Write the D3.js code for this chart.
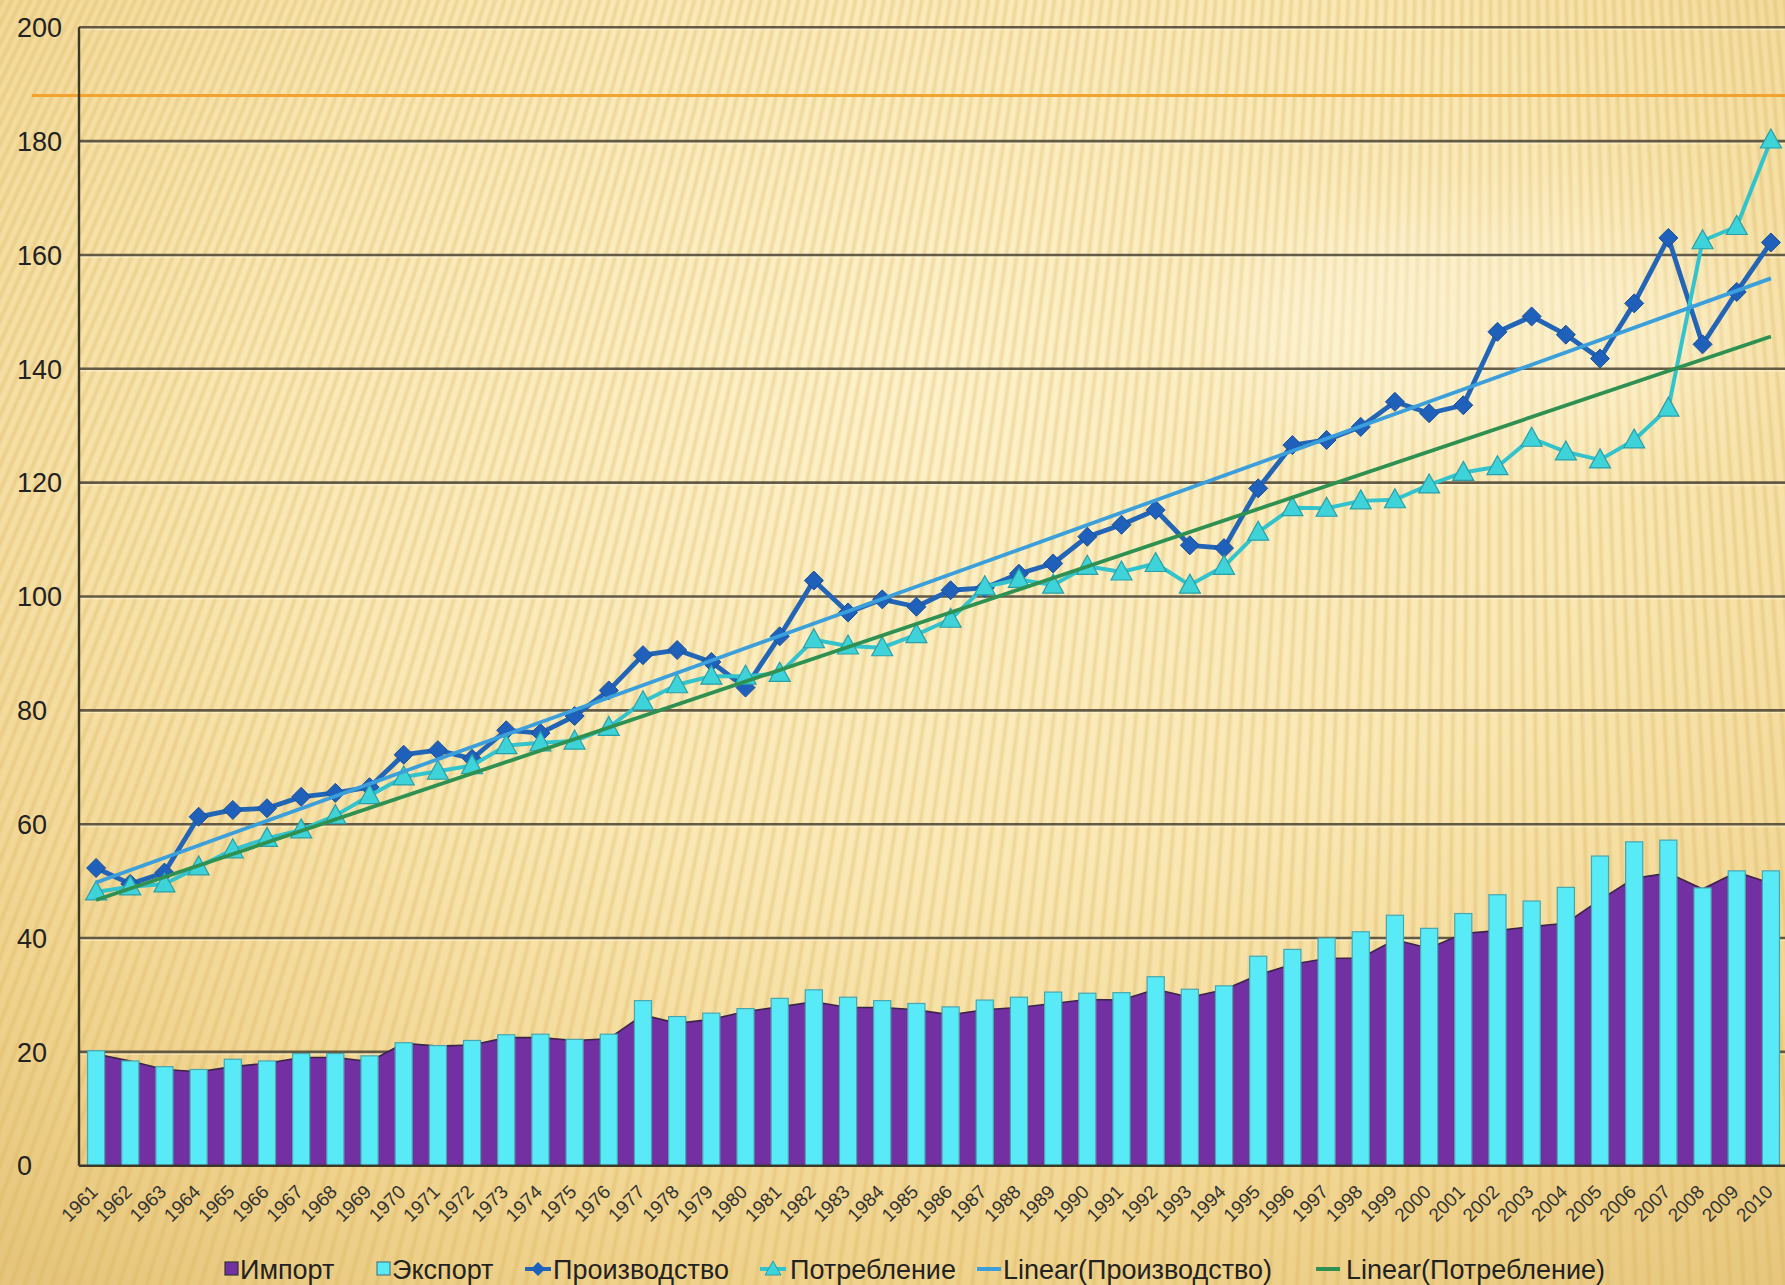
<!DOCTYPE html>
<html><head><meta charset="utf-8">
<script src="https://cdn.jsdelivr.net/npm/d3@7"></script>
<style>html,body{margin:0;padding:0;overflow:hidden;background:#F3DC9E}</style>
</head><body>
<svg id="c" width="1785" height="1285"></svg>
<script>
const years = ["1961","1962","1963","1964","1965","1966","1967","1968","1969","1970",
  "1971","1972","1973","1974","1975","1976","1977","1978","1979","1980",
  "1981","1982","1983","1984","1985","1986","1987","1988","1989","1990",
  "1991","1992","1993","1994","1995","1996","1997","1998","1999","2000",
  "2001","2002","2003","2004","2005","2006","2007","2008","2009","2010"];
const importVals = [19.6,18.4,16.9,16.5,17.4,18.0,19.0,19.0,18.3,21.5,
  21.0,21.2,22.5,22.5,22.0,22.3,26.5,25.0,25.7,27.1,
  27.9,28.8,27.8,27.8,27.4,26.5,27.4,27.8,28.5,29.2,
  29.1,31.0,29.6,30.9,33.5,35.4,36.4,36.5,39.7,38.2,
  40.8,41.3,42.0,42.6,46.7,50.5,51.4,48.6,51.6,49.6];
const exportVals = [20.2,18.4,17.4,16.9,18.7,18.4,19.7,19.7,19.3,21.6,
  21.1,22.0,23.0,23.1,22.2,23.1,29.0,26.2,26.8,27.6,
  29.4,30.9,29.6,29.0,28.5,27.9,29.1,29.6,30.5,30.3,
  30.4,33.2,31.0,31.6,36.8,38.0,40.0,41.1,44.0,41.7,
  44.3,47.6,46.5,48.9,54.4,56.9,57.2,48.8,51.8,51.8];
const production = [52.3,49.5,51.5,61.3,62.5,62.8,64.8,65.5,66.5,72.2,
  73.0,71.5,76.5,76.0,79.0,83.5,89.7,90.6,88.5,84.0,
  93.0,102.8,97.2,99.5,98.2,101.1,101.5,104.0,105.8,110.5,
  112.6,115.2,109.0,108.5,119.0,126.6,127.5,129.8,134.2,132.2,
  133.6,146.5,149.2,146.0,141.8,151.5,163.0,144.3,153.5,162.2];
const consumption = [48.1,49.0,49.5,52.5,55.5,57.5,59.0,61.5,65.0,68.3,
  69.3,70.3,73.8,74.3,74.6,77.0,81.5,84.5,86.0,86.0,
  86.5,92.4,91.3,91.0,93.3,96.0,101.7,103.0,102.0,105.3,
  104.3,105.8,102.0,105.3,111.3,115.6,115.5,116.8,117.0,119.6,
  121.8,122.8,127.8,125.4,124.0,127.5,133.1,162.5,165.0,180.2];
const yTicks = [0,20,40,60,80,100,120,140,160,180,200];
const legendLabels = ["Импорт","Экспорт","Производство","Потребление","Linear(Производство)","Linear(Потребление)"];
const decorLineValue = 188;

const W = 1785, H = 1285;
const svg = d3.select("#c");
const defs = svg.append("defs");

// background gradient
const rg = defs.append("radialGradient").attr("id","bg").attr("cx","0.52").attr("cy","0.3").attr("r","0.85");
rg.append("stop").attr("offset","0").attr("stop-color","#FDF2CB");
rg.append("stop").attr("offset","0.45").attr("stop-color","#FAE8B4");
rg.append("stop").attr("offset","0.8").attr("stop-color","#F0D48F");
rg.append("stop").attr("offset","1").attr("stop-color","#E6C67C");
svg.append("rect").attr("width",W).attr("height",H).attr("fill","url(#bg)");

const blur = defs.append("filter").attr("id","soft").attr("x","-5%").attr("y","-5%").attr("width","110%").attr("height","110%");
blur.append("feGaussianBlur").attr("stdDeviation",1.2);
const glareF = defs.append("filter").attr("id","glare").attr("x","-50%").attr("y","-50%").attr("width","200%").attr("height","200%");
glareF.append("feGaussianBlur").attr("stdDeviation",45);

// ray stripes (decoration)
const F = [1500, -3000];
const rays = [];
for (let x = -800; x <= 2300; x += 11.5) {
  const dx = x - F[0], dy = 640 - F[1];
  const t1 = (-20 - F[1]) / dy, t2 = (1310 - F[1]) / dy;
  rays.push([F[0] + dx * t1, -20, F[0] + dx * t2, 1310]);
}
svg.append("g").attr("filter","url(#soft)").selectAll("line").data(rays).join("line")
  .attr("x1",d=>d[0]).attr("y1",d=>d[1]).attr("x2",d=>d[2]).attr("y2",d=>d[3])
  .attr("stroke","#D6AE55").attr("stroke-opacity",0.36).attr("stroke-width",3.4);
svg.append("ellipse").attr("cx",1480).attr("cy",330).attr("rx",260).attr("ry",120)
  .attr("fill","#FFFBEA").attr("opacity",0.4).attr("filter","url(#glare)");

// scales
const x = d3.scaleBand().domain(years).range([79, 1788]).padding(0);
const bw = x.bandwidth();
const cx = d => x(d) + bw / 2;
const y = d3.scaleLinear().domain([0, 200]).range([1165.7, 27.3]);

// gridlines
const grid = svg.append("g");
grid.selectAll("line.s").data(yTicks.filter(t=>t>0)).join("line").attr("class","s")
  .attr("x1",79).attr("x2",W).attr("y1",d=>y(d)+2).attr("y2",d=>y(d)+2)
  .attr("stroke","#FFF6D8").attr("stroke-opacity",0.5).attr("stroke-width",2);
grid.selectAll("line.g").data(yTicks.filter(t=>t>0)).join("line").attr("class","g")
  .attr("x1",79).attr("x2",W).attr("y1",d=>y(d)).attr("y2",d=>y(d))
  .attr("stroke","#4A4334").attr("stroke-opacity",0.85).attr("stroke-width",2.6);

// orange decorative line
svg.append("line").attr("x1",32).attr("x2",W).attr("y1",y(decorLineValue)).attr("y2",y(decorLineValue))
  .attr("stroke","#F2A22E").attr("stroke-width",3);

// import area
const area = d3.area().x((d,i)=>cx(years[i])).y0(y(0)).y1(d=>y(d));
svg.append("path").datum(importVals).attr("d",area)
  .attr("fill","#7230A2").attr("stroke","#3A2448").attr("stroke-width",1.6);

// export bars
svg.append("g").selectAll("rect").data(exportVals).join("rect")
  .attr("x",(d,i)=>cx(years[i]) - bw*0.25).attr("width",bw*0.5)
  .attr("y",d=>y(d)).attr("height",d=>y(0)-y(d))
  .attr("fill","#58EBF7").attr("stroke","#4AA6AE").attr("stroke-width",1.2);

// axes lines
svg.append("line").attr("x1",79).attr("x2",79).attr("y1",y(200)).attr("y2",y(0))
  .attr("stroke","#3B372D").attr("stroke-width",2.4);
svg.append("line").attr("x1",79).attr("x2",W).attr("y1",y(0)).attr("y2",y(0))
  .attr("stroke","#3B372D").attr("stroke-width",2.4);

// y labels
svg.append("g").selectAll("text").data(yTicks).join("text")
  .attr("x",17).attr("y",d=>y(d)).attr("dy","0.36em")
  .attr("font-family","'Liberation Sans', Arial, sans-serif").attr("font-size",27)
  .attr("fill","#222").text(d=>d);

// x labels
svg.append("g").selectAll("text").data(years).join("text")
  .attr("transform",d=>`translate(${cx(d)+3},${1193}) rotate(-45)`)
  .attr("text-anchor","end")
  .attr("font-family","'Liberation Sans', Arial, sans-serif").attr("font-size",19)
  .attr("fill","#333").text(d=>d);

// lines
const line = d3.line().x((d,i)=>cx(years[i])).y(d=>y(d));
const diamond = "M0,-9.5L9.5,0L0,9.5L-9.5,0Z";
const tri = "M0,-11L10.5,8L-10.5,8Z";

svg.append("path").datum(production).attr("d",line).attr("fill","none")
  .attr("stroke","#2264B5").attr("stroke-width",4.8).attr("stroke-linejoin","round");
svg.append("g").selectAll("path").data(production).join("path")
  .attr("d",diamond).attr("transform",(d,i)=>`translate(${cx(years[i])},${y(d)})`)
  .attr("fill","#1F60BB").attr("stroke","#1A4F98").attr("stroke-width",1);

svg.append("path").datum(consumption).attr("d",line).attr("fill","none")
  .attr("stroke","#33C3CC").attr("stroke-width",4).attr("stroke-linejoin","round");
svg.append("g").selectAll("path").data(consumption).join("path")
  .attr("d",tri).attr("transform",(d,i)=>`translate(${cx(years[i])},${y(d)})`)
  .attr("fill","#3DD3D8").attr("stroke","#2A9FA8").attr("stroke-width",1.2);

// linear trends (least squares over category index)
function linFit(vals){
  const n = vals.length;
  const xs = vals.map((_,i)=>i+1);
  const mx = d3.mean(xs), my = d3.mean(vals);
  const b = d3.sum(xs.map((xv,i)=>(xv-mx)*(vals[i]-my))) / d3.sum(xs.map(xv=>(xv-mx)*(xv-mx)));
  const a = my - b*mx;
  return [a + b*1, a + b*n];
}
const tp = linFit(production), tc = linFit(consumption);
svg.append("line").attr("x1",cx(years[0])).attr("x2",cx(years[years.length-1]))
  .attr("y1",y(tp[0])).attr("y2",y(tp[1])).attr("stroke","#3A9FDA").attr("stroke-width",3.8);
svg.append("line").attr("x1",cx(years[0])).attr("x2",cx(years[years.length-1]))
  .attr("y1",y(tc[0])).attr("y2",y(tc[1])).attr("stroke","#2E9152").attr("stroke-width",3.8);

// legend
const lg = svg.append("g").attr("font-family","'Liberation Sans', Arial, sans-serif").attr("font-size",27).attr("fill","#222");
const ly = 1269;
const items = [
  {mx:225, tx:240, kind:"sq", fill:"#7230A2", stroke:"#333"},
  {mx:377, tx:392, kind:"sq", fill:"#58EBF7", stroke:"#4a7f84"},
  {mx:525, tx:553, kind:"dia", color:"#2264B5"},
  {mx:760, tx:790, kind:"tri", color:"#33C3CC"},
  {mx:977, tx:1003, kind:"ln", color:"#3A9FDA"},
  {mx:1316, tx:1346, kind:"ln", color:"#2E9152"}
];
items.forEach((it,k)=>{
  if (it.kind==="sq") {
    lg.append("rect").attr("x",it.mx).attr("y",ly-7).attr("width",13).attr("height",13)
      .attr("fill",it.fill).attr("stroke",it.stroke).attr("stroke-width",1.2);
  } else {
    lg.append("line").attr("x1",it.mx).attr("x2",it.mx+(it.kind==="ln"?24:26)).attr("y1",ly).attr("y2",ly)
      .attr("stroke",it.color).attr("stroke-width",4);
    if (it.kind==="dia") lg.append("path").attr("d","M0,-7L7,0L0,7L-7,0Z").attr("transform",`translate(${it.mx+13},${ly})`).attr("fill","#1F60BB");
    if (it.kind==="tri") lg.append("path").attr("d","M0,-8L8,6L-8,6Z").attr("transform",`translate(${it.mx+13},${ly})`).attr("fill","#3DD3D8").attr("stroke","#2A9FA8");
  }
  lg.append("text").attr("x",it.tx).attr("y",ly).attr("dy","0.36em").text(legendLabels[k]);
});
</script>
</body></html>
